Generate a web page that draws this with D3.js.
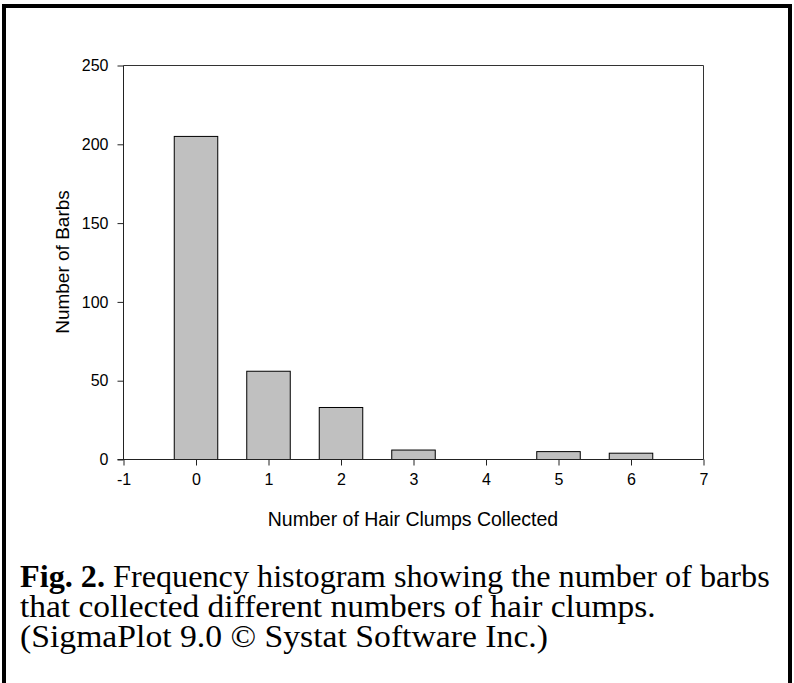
<!DOCTYPE html>
<html><head><meta charset="utf-8">
<script src="https://cdn.jsdelivr.net/npm/d3@7"></script>
<style>body{margin:0;background:#fff}svg{display:block}</style>
</head><body>
<svg id="c" width="794" height="683"></svg>
<script>
const categories = [0, 1, 2, 3, 4, 5, 6];
const counts = [205, 56, 33, 6, 0, 5, 4];
const xTicks = [-1, 0, 1, 2, 3, 4, 5, 6, 7];
const yTicks = [0, 50, 100, 150, 200, 250];
const xTitle = "Number of Hair Clumps Collected";
const yTitle = "Number of Barbs";
const captionLines = [
  [["Fig. 2.", true], [" Frequency histogram showing the number of barbs", false]],
  [["that collected different numbers of hair clumps.", false]],
  [["(SigmaPlot 9.0 \u00A9 Systat Software Inc.)", false]]
];
const captionWidths = [750, 636, 528];

const svg = d3.select("#c");
const L = 123, R = 703, T = 65, B = 459;
const x = d3.scaleLinear().domain([-1, 7]).range([L, R]);
const y = d3.scaleLinear().domain([0, 250]).range([B, T]);
const barW = 0.6;

// outer frame
svg.append("rect").attr("x", 4).attr("y", 6).attr("width", 786).attr("height", 720)
  .attr("fill", "none").attr("stroke", "#000").attr("stroke-width", 4);

// bars
svg.append("g").selectAll("rect").data(categories).join("rect")
  .attr("x", d => x(d - barW / 2) + 0.5)
  .attr("y", (d, i) => y(counts[i]) + 0.5)
  .attr("width", d => x(d + barW / 2) - x(d - barW / 2))
  .attr("height", (d, i) => y(0) - y(counts[i]))
  .attr("fill", "#c0c0c0").attr("stroke", "#000").attr("stroke-width", 1)
  .style("display", (d, i) => counts[i] > 0 ? null : "none");

// frame top & right
svg.append("path").attr("d", `M${L + 0.5},${T + 0.5}H${R + 0.5}V${B + 0.5}`)
  .attr("fill", "none").attr("stroke", "#333").attr("stroke-width", 1);

const font = "'Liberation Sans', Arial, sans-serif";
const fmt = d => String(d);
const xAxis = svg.append("g").attr("transform", `translate(0.5,${B + 0.5})`)
  .call(d3.axisBottom(x).tickValues(xTicks).tickFormat(fmt).tickSize(6).tickPadding(8).tickSizeOuter(0));
const yAxis = svg.append("g").attr("transform", `translate(${L + 0.5},0.5)`)
  .call(d3.axisLeft(y).tickValues(yTicks).tickFormat(fmt).tickSize(6).tickPadding(9).tickSizeOuter(0));
[xAxis, yAxis].forEach(g => {
  g.selectAll("path").attr("stroke", "#222").attr("d", g === xAxis ? `M${L - 6},0H${R}` : `M0,${B}V${T}`);
  g.selectAll("line").attr("stroke", "#222");
  g.selectAll("text").attr("font-family", font).attr("font-size", 16).attr("fill", "#000");
});

svg.append("text").attr("x", (L + R) / 2).attr("y", 526).attr("text-anchor", "middle")
  .attr("font-family", font).attr("font-size", 19.5).text(xTitle);
svg.append("text").attr("transform", `translate(69,${(T + B) / 2}) rotate(-90)`)
  .attr("text-anchor", "middle").attr("font-family", font).attr("font-size", 19).text(yTitle);

const cap = svg.append("g").attr("font-family", "'Liberation Serif', 'Times New Roman', serif")
  .attr("font-size", 31);
captionLines.forEach((line, i) => {
  const t = cap.append("text").attr("x", 0).attr("y", 0);
  line.forEach(([s, b]) => t.append("tspan").attr("font-weight", b ? "bold" : "normal").text(s));
  const w = t.node().getComputedTextLength();
  t.attr("transform", `translate(20,${587 + i * 30}) scale(${captionWidths[i] / w},1.04)`);
});
</script>
</body></html>
